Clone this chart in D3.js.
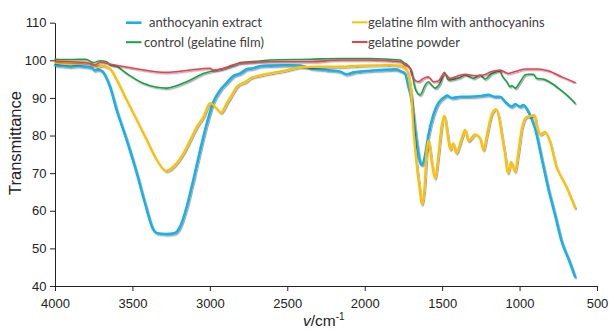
<!DOCTYPE html>
<html>
<head>
<meta charset="utf-8">
<script src="https://cdn.jsdelivr.net/npm/d3@7"></script>
<style>
  html, body { margin: 0; padding: 0; background: #fff; }
  svg { display: block; }
</style>
</head>
<body>
<svg id="chart" width="609" height="330"></svg>
<script>
// ---------- DATA ----------
const xTicks = [4000, 3500, 3000, 2500, 2000, 1500, 1000, 500];
const yTicks = [40, 50, 60, 70, 80, 90, 100, 110];
const seriesNames = ["anthocyanin extract", "gelatine film with anthocyanins", "control (gelatine film)", "gelatine powder"];

const extractWn = [4000,3950,3900,3850,3800,3760,3745,3720,3700,3688,3670,3645,3602,3537,3472,3419,3365,3340,3280,3225,3193,3150,3107,3063,3020,2977,2935,2891,2849,2805,2762,2719,2676,2612,2500,2418,2353,2245,2160,2117,2070,2030,1901,1805,1761,1740,1718,1700,1686,1665,1643,1632,1620,1610,1589,1557,1525,1482,1470,1438,1380,1331,1250,1202,1158,1126,1094,1051,1028,996,975,943,900,857,815,771,728,685,642];
const extractT  = [98.7,98.5,98.3,98.5,98.3,98.0,97.3,97.5,97.2,96.8,95.5,93.0,86.8,78.8,70.0,62.0,55.0,54.0,53.8,54.1,55.7,61.0,68.2,76.1,83.2,89.0,92.0,94.0,95.8,96.5,97.6,97.9,98.4,98.6,98.7,98.6,97.9,97.4,97.0,96.3,96.8,97.0,97.4,97.6,97.0,96.5,93.0,90.0,85.5,78.4,73.0,72.2,73.0,74.8,80.1,85.5,88.6,90.3,90.6,90.0,90.3,90.3,90.5,90.8,90.3,90.3,89.0,87.7,88.3,87.7,88.1,86.3,81.9,73.9,66.0,58.9,51.8,47.3,42.5];

const filmWn = [4000,3900,3800,3760,3731,3700,3688,3645,3602,3537,3472,3408,3343,3283,3225,3171,3117,3085,3042,2999,2956,2930,2891,2849,2827,2762,2741,2676,2504,2418,2289,2160,2030,1837,1772,1729,1708,1700,1686,1665,1643,1632,1615,1600,1589,1568,1546,1525,1503,1486,1465,1449,1428,1410,1374,1352,1331,1288,1255,1234,1212,1180,1151,1130,1115,1094,1077,1055,1030,1008,986,954,922,905,889,868,836,803,761,749,696,642];
const filmT  = [99.4,99.2,99.3,99.0,98.3,98.6,98.5,97.8,94.8,89.4,84.1,78.8,73.5,70.6,72.2,75.3,79.7,82.3,85.0,88.6,87.2,86.1,88.6,91.5,93.0,94.5,95.2,96.0,97.4,98.2,98.3,98.3,98.6,98.75,98.6,97.4,93.5,91.0,81.9,72.2,65.0,61.7,66.0,75.7,78.8,73.0,68.6,74.8,82.8,85.3,80.1,76.3,77.9,75.3,79.3,81.5,78.6,80.3,79.2,76.1,80.1,85.7,87.0,84.0,80.1,74.8,70.0,73.0,70.4,75.7,81.9,85.0,85.2,85.5,82.5,80.3,81.0,78.2,71.5,70.4,66.2,60.8];

const controlWn = [4000,3900,3800,3753,3709,3666,3645,3602,3537,3430,3350,3279,3220,3150,3042,2935,2849,2805,2676,2612,2353,2160,1966,1772,1740,1729,1697,1675,1643,1610,1589,1568,1546,1514,1486,1460,1428,1385,1352,1298,1255,1223,1180,1126,1115,1083,1061,1050,1028,996,965,943,911,889,846,793,750,696,642];
const controlT  = [100.3,100.2,100.3,99.4,99.9,99.6,98.8,98.4,96.5,93.9,92.9,92.6,93.2,94.3,96.5,97.6,98.6,99.4,99.8,100.1,100.3,100.5,100.5,100.1,99.2,99.0,97.0,92.6,90.8,93.4,94.3,93.4,92.6,93.9,96.8,94.8,95.0,95.4,96.1,95.2,96.1,95.0,96.5,97.2,96.1,94.3,93.0,93.3,92.6,94.3,96.1,96.3,96.3,95.2,95.0,93.9,92.6,90.8,88.6];

const powderWn = [4000,3900,3800,3741,3709,3645,3494,3279,3150,2999,2980,2935,2849,2805,2612,2353,2160,1966,1772,1740,1708,1697,1654,1621,1589,1557,1525,1486,1449,1396,1352,1288,1234,1180,1126,1073,1028,965,879,815,728,642];
const powderT  = [99.8,99.6,99.4,98.75,99.5,99.0,97.9,96.8,97.3,97.9,97.4,97.6,98.8,99.2,99.6,99.6,100.1,100.1,99.6,98.75,97.9,96.1,94.3,95.2,95.6,94.3,94.5,96.5,95.2,95.9,96.3,95.9,96.1,97.0,97.4,96.5,97.0,97.7,97.7,97.2,95.6,94.1];

const colors = ["#1AAFE8", "#FFC000", "#1E9E4A", "#EC3D52"];
const widths = [2.6, 2.2, 1.6, 1.6];

// ---------- CHART ----------
const svg = d3.select("#chart");
const defs = svg.append("defs");
const f = defs.append("filter").attr("id", "shadow").attr("x", "-5%").attr("y", "-5%").attr("width", "110%").attr("height", "110%");
f.append("feDropShadow").attr("dx", 1).attr("dy", 1.3).attr("stdDeviation", 0.7)
  .attr("flood-color", "#000").attr("flood-opacity", 0.35);

const x = d3.scaleLinear().domain([4000, 500]).range([55, 597]);
const y = d3.scaleLinear().domain([40, 110]).range([286, 22.7]);

const xAxis = svg.append("g").attr("transform", "translate(0,286)")
  .call(d3.axisBottom(x).tickValues(xTicks).tickSize(5).tickSizeOuter(0).tickPadding(8).tickFormat(d3.format("d")));
const yAxis = svg.append("g").attr("transform", "translate(55,0)")
  .call(d3.axisLeft(y).tickValues(yTicks).tickSize(5).tickSizeOuter(0).tickPadding(3.5).tickFormat(d3.format("d")));
[xAxis, yAxis].forEach(g => {
  g.selectAll("path, line").attr("stroke", "#222").attr("stroke-width", 1);
  g.selectAll("text").attr("fill", "#222").style("font-family", "'Liberation Sans', Arial, sans-serif").style("font-size", "13px");
});

const series = [
  { wn: extractWn, t: extractT },
  { wn: filmWn, t: filmT },
  { wn: controlWn, t: controlT },
  { wn: powderWn, t: powderT }
];

const line = d3.line().x(d => x(d[0])).y(d => y(d[1])).curve(d3.curveMonotoneX);

series.forEach((s, i) => {
  const pts = s.wn.map((w, k) => [w, s.t[k]]);
  svg.append("path").datum(pts)
    .attr("d", line)
    .attr("fill", "none")
    .attr("stroke", colors[i])
    .attr("stroke-width", widths[i])
    .attr("stroke-linejoin", "round")
    .attr("stroke-linecap", "round")
    .attr("filter", "url(#shadow)");
});

// axis titles
svg.append("text")
  .attr("transform", "translate(21,143) rotate(-90)")
  .attr("text-anchor", "middle")
  .style("font-family", "'Liberation Sans', Arial, sans-serif")
  .style("font-size", "16.5px")
  .attr("fill", "#222")
  .text("Transmittance");

const xt = svg.append("text")
  .attr("x", 303).attr("y", 326)
  .style("font-family", "'Liberation Sans', Arial, sans-serif")
  .style("font-size", "15.5px")
  .attr("fill", "#222");
xt.append("tspan").style("font-style", "italic").text("v");
xt.append("tspan").text("/cm");
xt.append("tspan").attr("dy", -6).style("font-size", "10px").text("-1");

// legend
const legendPos = [
  { lx: 126, tx: 149, y: 22.7 },
  { lx: 352, tx: 368, y: 22.3 },
  { lx: 126, tx: 144, y: 42.2 },
  { lx: 352, tx: 368, y: 42 }
];
legendPos.forEach((p, i) => {
  svg.append("line")
    .attr("x1", p.lx).attr("x2", p.lx + 15.5)
    .attr("y1", p.y).attr("y2", p.y)
    .attr("stroke", colors[i]).attr("stroke-width", i === 0 ? 2.6 : 2);
  svg.append("text")
    .attr("x", p.tx).attr("y", p.y).attr("dy", "0.35em")
    .style("font-family", "Lato, 'Open Sans', sans-serif")
    .style("font-size", "13px")
    .attr("fill", "#404040")
    .text(seriesNames[i]);
});
</script>
</body>
</html>
